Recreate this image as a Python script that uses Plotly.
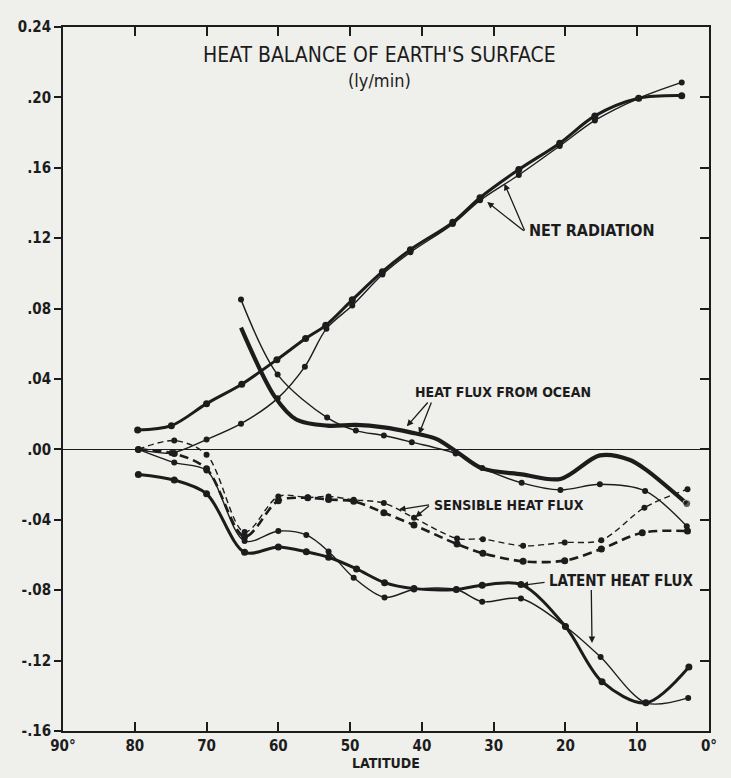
import plotly.graph_objects as go

# ---------------- data ----------------
nr_thick_lat = [79.6, 74.9, 70.0, 65.1, 60.2, 56.2, 53.4, 49.7, 45.5, 41.6, 35.7, 31.9, 26.5, 20.8, 15.9, 9.8, 3.8]
nr_thick_val = [0.011, 0.0135, 0.026, 0.037, 0.051, 0.063, 0.0705, 0.085, 0.101, 0.1135, 0.129, 0.143, 0.159, 0.174, 0.1895, 0.1995, 0.201]

nr_thin_lat = [79.5, 74.9, 70.0, 65.2, 60.1, 56.3, 53.3, 49.7, 45.5, 41.6, 35.7, 31.9, 26.5, 20.8, 15.9, 9.8, 3.8]
nr_thin_val = [0.0, -0.002, 0.0056, 0.0146, 0.029, 0.047, 0.0686, 0.0817, 0.0994, 0.112, 0.128, 0.1415, 0.1559, 0.1724, 0.1869, 0.1995, 0.2085]

ocean_thick_lat = [65.2, 60.5, 57.5, 53.2, 49.2, 45.3, 41.6, 38.0, 35.1, 31.6, 26.1, 20.7, 15.2, 11.0, 8.7, 3.1]
ocean_thick_val = [0.0692, 0.030, 0.017, 0.0135, 0.0139, 0.0125, 0.0097, 0.006, -0.0015, -0.0108, -0.0142, -0.0168, -0.0034, -0.006, -0.0118, -0.0308]

ocean_thin_lat = [65.2, 60.1, 53.2, 49.2, 45.3, 41.4, 35.3, 31.6, 26.1, 20.7, 15.2, 8.9, 3.1]
ocean_thin_val = [0.0851, 0.0425, 0.0181, 0.0107, 0.0079, 0.0041, -0.0024, -0.0105, -0.019, -0.023, -0.0198, -0.0236, -0.0436]

sens_thin_lat = [79.5, 74.5, 70.0, 64.7, 60.0, 55.9, 53.0, 49.5, 45.3, 41.1, 35.1, 31.5, 25.9, 20.1, 15.0, 9.0, 3.0]
sens_thin_val = [0.0, 0.005, -0.003, -0.047, -0.0267, -0.0273, -0.0267, -0.0286, -0.0305, -0.0389, -0.0506, -0.051, -0.0548, -0.0529, -0.0516, -0.0331, -0.0226]

sens_thick_lat = [79.5, 74.5, 70.0, 64.7, 60.0, 55.9, 53.0, 49.5, 45.3, 41.1, 35.1, 31.5, 25.9, 20.1, 15.0, 9.3, 3.0]
sens_thick_val = [0.0, -0.0024, -0.011, -0.0495, -0.0292, -0.0275, -0.0285, -0.0295, -0.036, -0.043, -0.0538, -0.059, -0.0636, -0.0632, -0.0566, -0.0473, -0.0464]

lat_thick_lat = [79.5, 74.5, 70.0, 64.7, 60.0, 56.1, 53.0, 49.1, 45.2, 41.1, 35.2, 31.6, 26.2, 20.0, 14.9, 8.8, 2.8]
lat_thick_val = [-0.0142, -0.0174, -0.0252, -0.0585, -0.0554, -0.0582, -0.0613, -0.0679, -0.0757, -0.0791, -0.0796, -0.0772, -0.0767, -0.1006, -0.132, -0.144, -0.1236]

lat_thin_lat = [79.5, 74.5, 70.0, 64.7, 60.0, 56.1, 53.0, 49.5, 45.2, 41.1, 35.2, 31.6, 26.2, 20.0, 15.1, 8.8, 2.9]
lat_thin_val = [0.0, -0.0075, -0.012, -0.052, -0.0464, -0.0486, -0.058, -0.0729, -0.0841, -0.0796, -0.0796, -0.0865, -0.0847, -0.1006, -0.118, -0.144, -0.1412]

x_ticks = [90, 80, 70, 60, 50, 40, 30, 20, 10, 0]
x_tick_text = ["90°", "80", "70", "60", "50", "40", "30", "20", "10", "0°"]
y_ticks = [-0.16, -0.12, -0.08, -0.04, 0.0, 0.04, 0.08, 0.12, 0.16, 0.20, 0.24]
y_tick_text = ["-.16", "-.12", "-.08", "-.04", ".00", ".04", ".08", ".12", ".16", ".20", "0.24"]

# ---------------- styling ----------------
INK = "#1c1c1c"
PAPER = "#efefec"
FONT = "Liberation Sans Narrow, DejaVu Sans Condensed, Arial Narrow, sans-serif"

fig = go.Figure()


def add(xs, ys, width, dash="solid", msize=6, smoothing=0.9, marker_sizes=None):
    sizes = marker_sizes if marker_sizes is not None else msize
    fig.add_trace(go.Scatter(
        x=xs, y=ys, mode="lines+markers",
        line=dict(color=INK, width=width, dash=dash, shape="spline", smoothing=smoothing),
        marker=dict(color=INK, size=sizes),
        showlegend=False, hoverinfo="skip",
    ))


add(nr_thin_lat, nr_thin_val, 1.4)
add(nr_thick_lat, nr_thick_val, 3.0, msize=7)
add(ocean_thin_lat, ocean_thin_val, 1.4)
ocean_sizes = [0] * len(ocean_thick_lat)
ocean_sizes[-1] = 8
add(ocean_thick_lat, ocean_thick_val, 4.2, marker_sizes=ocean_sizes)
add(sens_thin_lat, sens_thin_val, 1.4, dash="6px,4px")
add(sens_thick_lat, sens_thick_val, 2.6, dash="9px,5px", msize=7)
add(lat_thin_lat, lat_thin_val, 1.4)
add(lat_thick_lat, lat_thick_val, 3.0, msize=7)

# ---------------- labels with arrows ----------------


def label(text, x, y, size=15):
    fig.add_annotation(x=x, y=y, xref="x", yref="y", text="<b>%s</b>" % text,
                       showarrow=False, font=dict(family=FONT, size=size, color=INK),
                       xanchor="left", yanchor="middle")


def arrow(x0, y0, x1, y1):
    fig.add_annotation(x=x1, y=y1, ax=x0, ay=y0, xref="x", yref="y", axref="x", ayref="y",
                       text="", showarrow=True, arrowhead=2, arrowsize=1, arrowwidth=1.3,
                       arrowcolor=INK, standoff=0)


label("NET RADIATION", 25.3, 0.1245, 16)
arrow(25.6, 0.1235, 30.9, 0.1406)
arrow(25.6, 0.1235, 28.5, 0.151)

label("HEAT FLUX FROM OCEAN", 41.3, 0.0325, 14)
arrow(39.0, 0.0275, 42.1, 0.0131)
arrow(38.6, 0.0275, 40.4, 0.0088)

label("SENSIBLE HEAT FLUX", 38.6, -0.0314, 14)
arrow(38.8, -0.0314, 43.2, -0.0342)
arrow(38.8, -0.0314, 40.9, -0.0385)

label("LATENT HEAT FLUX", 22.6, -0.0746, 15)
arrow(22.7, -0.0755, 26.1, -0.0772)
arrow(16.4, -0.079, 16.3, -0.110)

# ---------------- title ----------------
fig.add_annotation(x=0.49, y=0.9607, xref="paper", yref="paper",
                   text="HEAT BALANCE OF EARTH'S SURFACE", showarrow=False,
                   font=dict(family=FONT, size=21, color=INK), yanchor="middle")
fig.add_annotation(x=0.49, y=0.924, xref="paper", yref="paper",
                   text="(ly/min)", showarrow=False,
                   font=dict(family=FONT, size=18, color=INK), yanchor="middle")

tick_font = dict(family=FONT, size=15, color=INK)

fig.update_layout(
    width=723, height=770,
    margin=dict(l=54, r=22, t=10, b=47),
    paper_bgcolor=PAPER, plot_bgcolor=PAPER,
    xaxis=dict(
        range=[90, 0], tickvals=x_ticks, ticktext=["<b>%s</b>" % t for t in x_tick_text],
        ticks="inside", ticklen=9, tickwidth=1.5, tickcolor=INK,
        showline=True, linecolor=INK, linewidth=1.8, mirror="ticks",
        showgrid=False, zeroline=False,
        tickfont=tick_font,
        title=dict(text="<b>LATITUDE</b>", font=dict(family=FONT, size=14, color=INK), standoff=2),
    ),
    yaxis=dict(
        range=[-0.16, 0.24], tickvals=y_ticks, ticktext=["<b>%s</b>" % t for t in y_tick_text],
        ticks="outside", ticklen=7, tickwidth=1.5, tickcolor=INK,
        showline=True, linecolor=INK, linewidth=1.8, mirror=True,
        showgrid=False, zeroline=True, zerolinecolor=INK, zerolinewidth=1.3,
        tickfont=tick_font,
    ),
    yaxis2=dict(
        range=[-0.16, 0.24], tickvals=y_ticks, overlaying="y", side="right",
        ticks="inside", ticklen=9, tickwidth=1.5, tickcolor=INK,
        showticklabels=False, showgrid=False, zeroline=False, showline=False,
    ),
)
# invisible trace to activate the right-side tick axis
fig.add_trace(go.Scatter(x=[50], y=[0], yaxis="y2", mode="markers",
                         marker=dict(size=0, opacity=0), showlegend=False, hoverinfo="skip"))

fig.write_html("out.html",
               post_script="document.body.style.background='%s';" % PAPER)
